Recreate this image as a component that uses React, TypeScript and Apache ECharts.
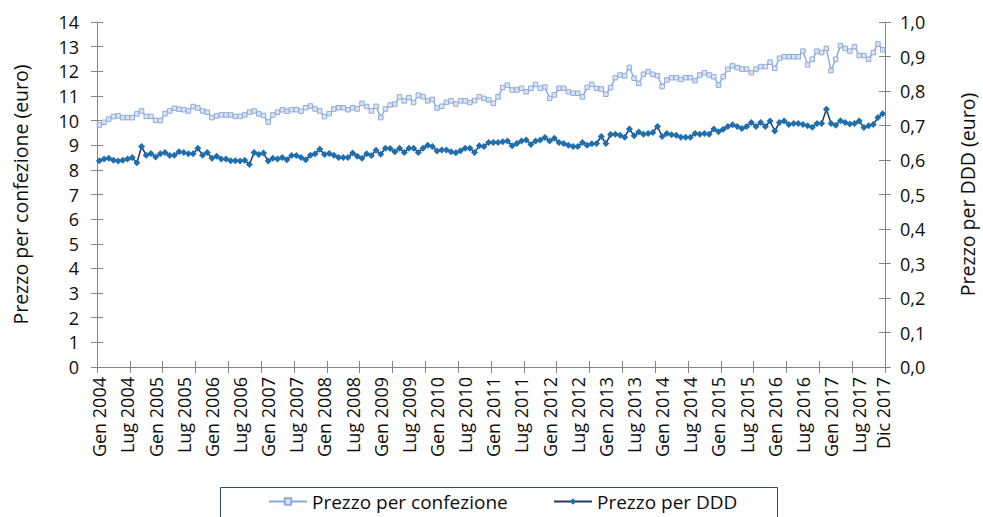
import React, { useEffect, useRef } from "react";
import * as echarts from "echarts";

const months = ["Gen", "Feb", "Mar", "Apr", "Mag", "Giu", "Lug", "Ago", "Set", "Ott", "Nov", "Dic"];
const years = [2004, 2005, 2006, 2007, 2008, 2009, 2010, 2011, 2012, 2013, 2014, 2015, 2016, 2017];
const categories = years.flatMap((y) => months.map((m) => `${m} ${y}`));

const leftTicks = [0, 14, 1];
const rightTicks = [0, 1, 0.1];

// Prezzo per confezione (euro), Gen 2004 - Dic 2017
const confezione = [
  9.82, 9.93, 10.06, 10.16, 10.19, 10.12, 10.12, 10.12, 10.27, 10.39, 10.17, 10.17,
  10.01, 10.0, 10.28, 10.39, 10.5, 10.46, 10.44, 10.39, 10.57, 10.51, 10.39, 10.34,
  10.12, 10.19, 10.23, 10.23, 10.23, 10.17, 10.17, 10.23, 10.34, 10.39, 10.27, 10.21,
  9.94, 10.23, 10.34, 10.44, 10.38, 10.44, 10.44, 10.38, 10.52, 10.59, 10.47, 10.39,
  10.16, 10.28, 10.47, 10.52, 10.52, 10.44, 10.52, 10.47, 10.7, 10.57, 10.39, 10.58,
  10.12, 10.47, 10.63, 10.67, 10.96, 10.8, 10.93, 10.73, 11.03, 10.97, 10.8, 10.86,
  10.51, 10.58, 10.74, 10.8, 10.67, 10.8, 10.8, 10.73, 10.81, 10.97, 10.9, 10.84,
  10.7, 10.96, 11.34, 11.44, 11.24, 11.24, 11.31, 11.17, 11.31, 11.47, 11.31, 11.36,
  10.9, 11.04, 11.31, 11.31, 11.17, 11.11, 11.11, 10.96, 11.35, 11.47, 11.31, 11.28,
  11.07, 11.34, 11.74, 11.85, 11.81, 12.16, 11.72, 11.51, 11.88, 11.99, 11.88, 11.82,
  11.38, 11.65, 11.74, 11.74, 11.67, 11.74, 11.74, 11.62, 11.85, 11.94, 11.85, 11.78,
  11.44, 11.78, 12.08, 12.22, 12.15, 12.09, 12.09, 11.94, 12.09, 12.19, 12.19, 12.37,
  12.12, 12.53, 12.59, 12.59, 12.59, 12.59, 12.82, 12.26, 12.49, 12.82, 12.76, 12.93,
  12.03, 12.49, 13.04, 12.93, 12.82, 13.0, 12.64, 12.64, 12.49, 12.76, 13.11, 12.87,
];

// Prezzo per DDD (euro), Gen 2004 - Dic 2017
const ddd = [
  0.598, 0.603, 0.605, 0.599, 0.597, 0.599, 0.603, 0.607, 0.592, 0.639, 0.614, 0.619,
  0.609, 0.618, 0.622, 0.613, 0.614, 0.624, 0.622, 0.618, 0.618, 0.634, 0.614, 0.622,
  0.605, 0.611, 0.603, 0.603, 0.598, 0.598, 0.597, 0.599, 0.587, 0.622, 0.616, 0.62,
  0.597, 0.605, 0.603, 0.607, 0.601, 0.613, 0.613, 0.607, 0.601, 0.614, 0.618, 0.631,
  0.616, 0.619, 0.614, 0.607, 0.607, 0.607, 0.62, 0.611, 0.605, 0.618, 0.613, 0.628,
  0.617, 0.634, 0.633, 0.624, 0.634, 0.622, 0.634, 0.634, 0.622, 0.634, 0.643, 0.639,
  0.626, 0.629, 0.629, 0.624, 0.621, 0.627, 0.634, 0.634, 0.622, 0.641, 0.639, 0.651,
  0.651, 0.651, 0.653, 0.655, 0.641, 0.648, 0.655, 0.658, 0.645, 0.655, 0.658, 0.665,
  0.655, 0.663, 0.651, 0.648, 0.643, 0.639, 0.639, 0.651, 0.643, 0.647, 0.648, 0.668,
  0.648, 0.674, 0.675, 0.672, 0.666, 0.69, 0.67, 0.681, 0.675, 0.677, 0.68, 0.697,
  0.668, 0.677, 0.673, 0.672, 0.666, 0.666, 0.666, 0.677, 0.675, 0.677, 0.675, 0.69,
  0.682, 0.689, 0.697, 0.702, 0.697, 0.691, 0.697, 0.709, 0.697, 0.709, 0.697, 0.713,
  0.684, 0.709, 0.713, 0.703, 0.706, 0.706, 0.703, 0.699, 0.695, 0.706, 0.706, 0.747,
  0.706, 0.701, 0.714, 0.709, 0.704, 0.706, 0.713, 0.694, 0.699, 0.703, 0.723, 0.734,
];

const seriesNames = ["Prezzo per confezione", "Prezzo per DDD"];
const axisNames = ["Prezzo per confezione (euro)", "Prezzo per DDD (euro)"];

const FONT = "Open Sans";
const AXIS_COLOR = "#868686";
const TEXT_COLOR = "#0d0d0d";

export default function App() {
  const ref = useRef<HTMLDivElement>(null);

  useEffect(() => {
    if (!ref.current) return;
    const chart = echarts.init(ref.current, undefined, { renderer: "svg" });
    const lastIdx = categories.length - 1;
    const labelShown = (idx: number) => idx % 6 === 0 || idx === lastIdx;

    const tickStyle = { show: true, length: 6, lineStyle: { color: AXIS_COLOR, width: 1 } };

    chart.setOption({
      animation: false,
      textStyle: { fontFamily: FONT },
      grid: { left: 97, right: 98, top: 22, bottom: 150, outerBoundsMode: "none", containLabel: false },
      xAxis: [
        {
          type: "category",
          data: categories,
          boundaryGap: true,
          position: "bottom",
          axisLine: { show: true, onZero: false, lineStyle: { color: AXIS_COLOR, width: 1 } },
          axisTick: { ...tickStyle, interval: 6, alignWithLabel: false },
          axisLabel: {
            interval: (idx: number) => labelShown(idx),
            rotate: 90,
            fontSize: 18,
            fontFamily: FONT,
            color: TEXT_COLOR,
            margin: 10,
          },
          splitLine: { show: false },
        },
        {
          type: "category",
          data: categories,
          boundaryGap: true,
          position: "bottom",
          axisLine: { show: false, onZero: false },
          axisTick: { ...tickStyle, inside: true, interval: 6, alignWithLabel: false },
          axisLabel: { show: false },
          splitLine: { show: false },
        },
      ],
      yAxis: [
        {
          type: "value",
          position: "left",
          min: leftTicks[0],
          max: leftTicks[1],
          interval: leftTicks[2],
          name: axisNames[0],
          nameLocation: "middle",
          nameGap: 67,
          nameTextStyle: { fontSize: 19.5, fontFamily: FONT, color: TEXT_COLOR },
          axisLine: { show: true, lineStyle: { color: AXIS_COLOR, width: 1 } },
          axisTick: tickStyle,
          axisLabel: { fontSize: 18, fontFamily: FONT, color: TEXT_COLOR, margin: 18 },
          splitLine: { show: false },
        },
        {
          type: "value",
          position: "right",
          min: rightTicks[0],
          max: rightTicks[1],
          interval: rightTicks[2],
          name: axisNames[1],
          nameLocation: "middle",
          nameGap: 72,
          nameTextStyle: { fontSize: 19.5, fontFamily: FONT, color: TEXT_COLOR },
          axisLine: { show: true, lineStyle: { color: AXIS_COLOR, width: 1 } },
          axisTick: tickStyle,
          axisLabel: {
            fontSize: 18,
            fontFamily: FONT,
            color: TEXT_COLOR,
            margin: 15,
            formatter: (v: number) => v.toFixed(1).replace(".", ","),
          },
          splitLine: { show: false },
        },
        {
          type: "value",
          position: "left",
          min: leftTicks[0],
          max: leftTicks[1],
          interval: leftTicks[2],
          axisLine: { show: false },
          axisTick: { ...tickStyle, inside: true },
          axisLabel: { show: false },
          splitLine: { show: false },
        },
        {
          type: "value",
          position: "right",
          min: rightTicks[0],
          max: rightTicks[1],
          interval: rightTicks[2],
          axisLine: { show: false },
          axisTick: { ...tickStyle, inside: true },
          axisLabel: { show: false },
          splitLine: { show: false },
        },
      ],
      legend: [
        {
          left: 268,
          top: 492,
          padding: 0,
          data: [seriesNames[0]],
          itemWidth: 38,
          itemHeight: 8,
          textStyle: { fontSize: 19, fontFamily: FONT, color: TEXT_COLOR },
        },
        {
          left: 553,
          top: 492,
          padding: 0,
          data: [seriesNames[1]],
          itemWidth: 38,
          itemHeight: 8,
          textStyle: { fontSize: 19, fontFamily: FONT, color: TEXT_COLOR },
        },
      ],
      graphic: [
        {
          type: "rect",
          left: 218,
          top: 485,
          shape: { x: 0, y: 0, width: 557, height: 40 },
          style: { fill: "none", stroke: "#2f4a68", lineWidth: 1 },
          silent: true,
        },
      ],
      series: [
        {
          name: seriesNames[0],
          type: "line",
          xAxisIndex: 0,
          yAxisIndex: 0,
          data: confezione,
          symbol: "rect",
          symbolSize: 4.5,
          showSymbol: true,
          showAllSymbol: true,
          lineStyle: { color: "#8eaadb", width: 1.5 },
          itemStyle: { color: "#dbe4f3", borderColor: "#8eaadb", borderWidth: 1 },
        },
        {
          name: seriesNames[1],
          type: "line",
          xAxisIndex: 0,
          yAxisIndex: 1,
          data: ddd,
          symbol: "diamond",
          symbolSize: 7,
          showSymbol: true,
          showAllSymbol: true,
          lineStyle: { color: "#1f3864", width: 1.5 },
          itemStyle: { color: "#1f6fae" },
        },
      ],
    });

    return () => chart.dispose();
  }, []);

  return (
    <div
      ref={ref}
      style={{ position: "fixed", left: 0, top: 0, width: 983, height: 517, background: "#fff" }}
    />
  );
}
